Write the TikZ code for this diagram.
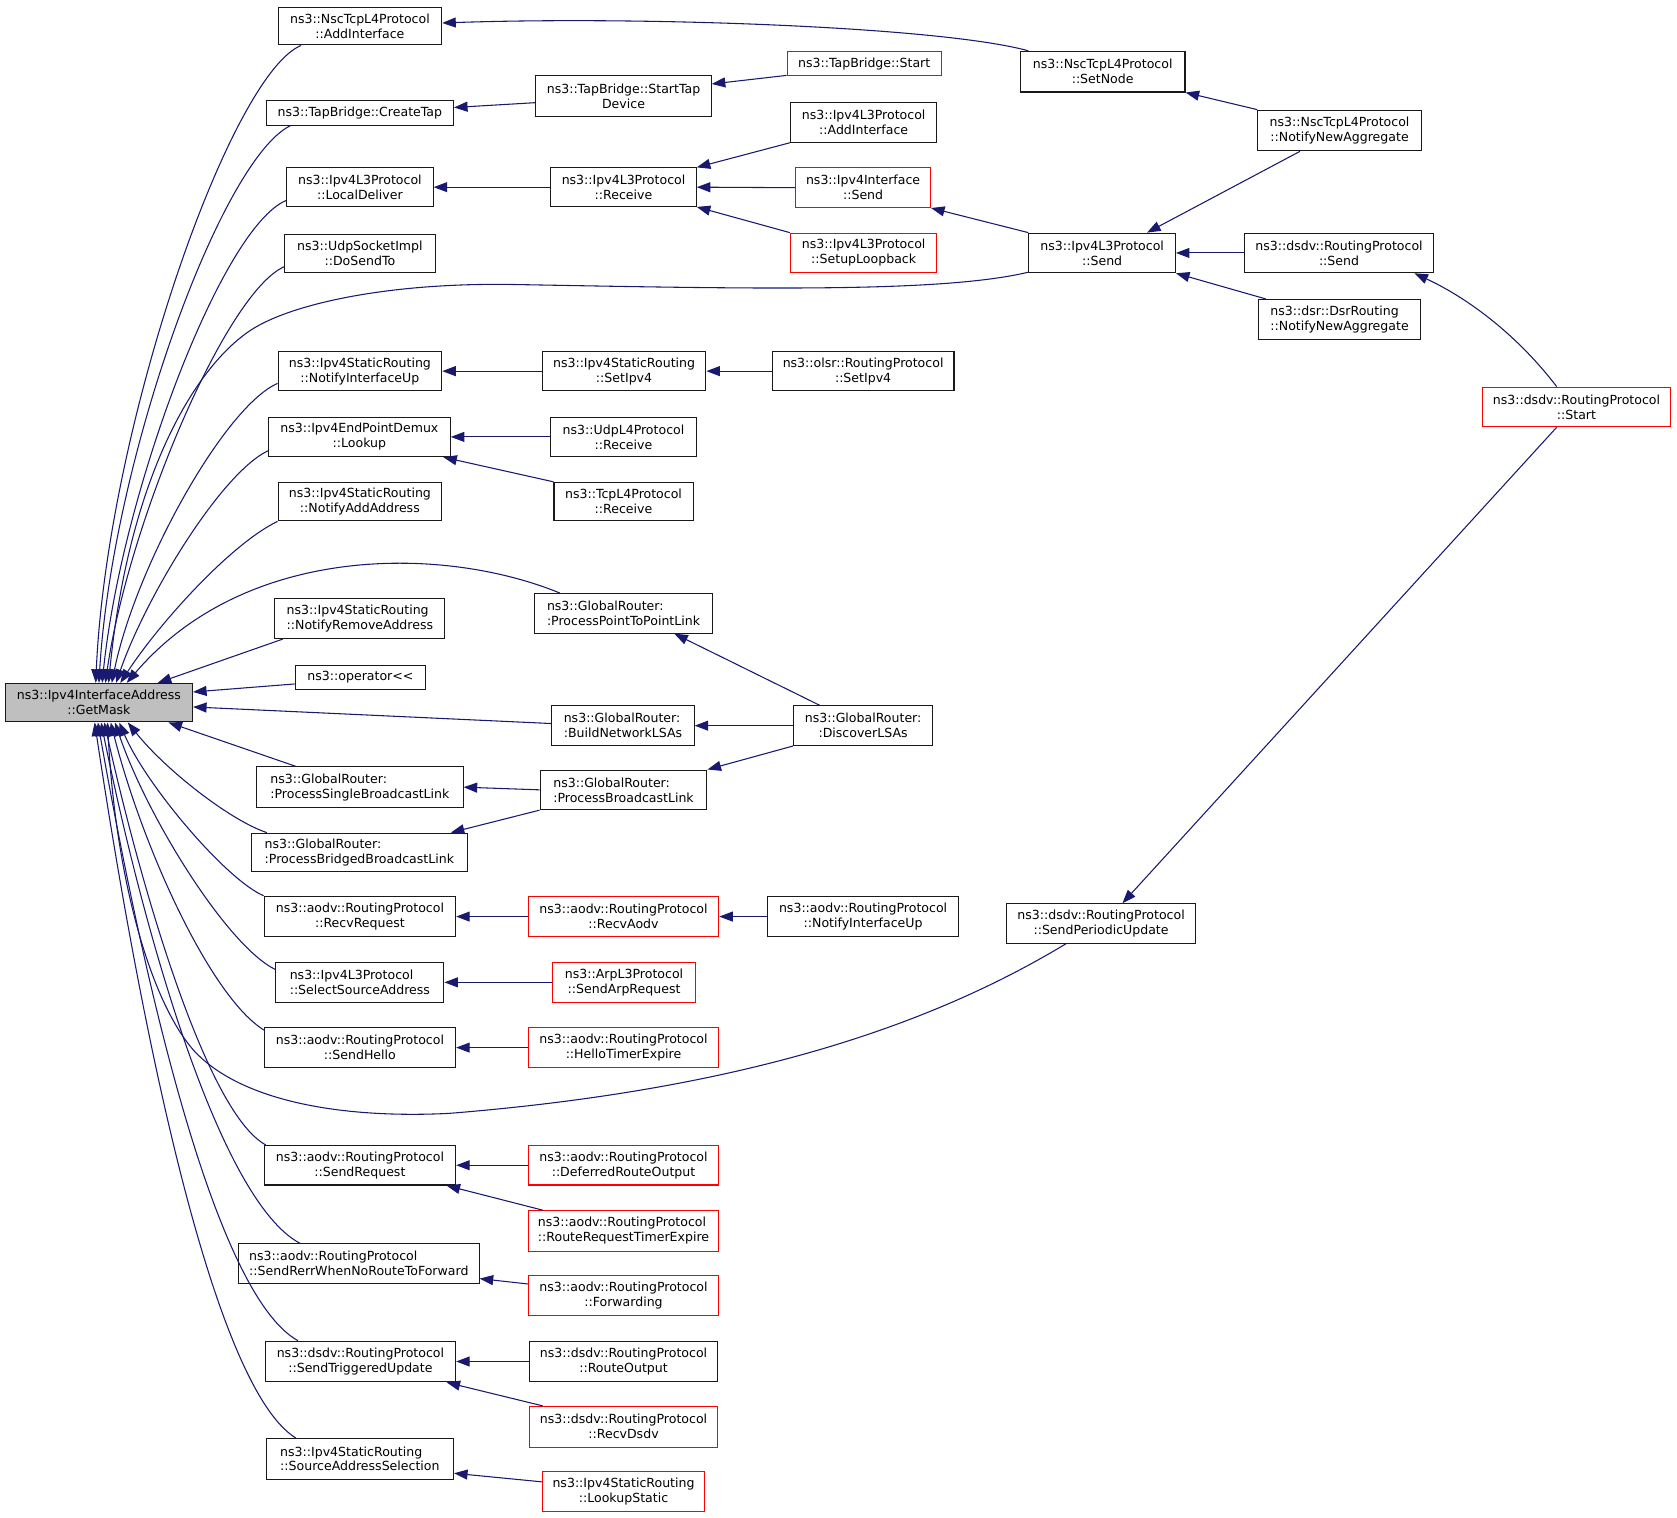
\documentclass[tikz,border=0pt]{standalone}
\usepackage{fontspec}
\setmainfont{DejaVu Sans}
\usetikzlibrary{arrows.meta,calc}
\definecolor{edgec}{HTML}{191970}
\definecolor{gmfill}{HTML}{BFBFBF}
\tikzset{
  fn/.style={draw=black!90, line width=0.75pt, inner sep=0pt, align=center, text=black,
    font=\fontsize{8.8pt}{10.5pt}\selectfont},
  fnl/.style={fn, align=left},
  redbox/.style={draw=red},
  cur/.style={fill=gmfill},
  edge/.style={draw=edgec, line width=0.75pt, -{Triangle[length=9.5pt,width=7pt]}, edgec},
}
\newcommand\fnbox[7]{\node[#6, minimum width={(#4-#2)*0.75pt}, minimum height={(#5-#3)*0.75pt}] (#1) at ({(#2+#4)/2},{(#3+#5)/2}) {#7};}
\begin{document}
\begin{tikzpicture}[x=0.75pt,y=-0.75pt]
\fill[white] (0,0) rectangle (1568,1418.5);
\useasboundingbox (0,0) rectangle (1568,1418.5);
% column 1
\fnbox{gm}{5}{639}{180}{675}{fn,cur}{ns3::Ipv4InterfaceAddress\\::GetMask}
% column 2
\fnbox{nscadd}{260}{7}{413}{42}{fn}{ns3::NscTcpL4Protocol\\::AddInterface}
\fnbox{ctap}{249}{94}{424}{117}{fn}{ns3::TapBridge::CreateTap}
\fnbox{ldel}{268}{157}{405}{193}{fn}{ns3::Ipv4L3Protocol\\::LocalDeliver}
\fnbox{dosend}{266}{219}{407}{255}{fn}{ns3::UdpSocketImpl\\::DoSendTo}
\fnbox{niu}{260}{329}{413}{365}{fn}{ns3::Ipv4StaticRouting\\::NotifyInterfaceUp}
\fnbox{lookup}{251}{390}{421}{427}{fn}{ns3::Ipv4EndPointDemux\\::Lookup}
\fnbox{naa}{260}{451}{413}{487}{fn}{ns3::Ipv4StaticRouting\\::NotifyAddAddress}
\fnbox{nra}{257}{560}{416}{597}{fnl}{ns3::Ipv4StaticRouting\\::NotifyRemoveAddress}
\fnbox{opl}{276}{622}{398}{645}{fn}{ns3::operator<\kern0pt<}
\fnbox{psbl}{240}{717}{433}{755}{fnl}{ns3::GlobalRouter:\\:ProcessSingleBroadcastLink}
\fnbox{pbbl}{235}{779}{437}{815}{fnl}{ns3::GlobalRouter:\\:ProcessBridgedBroadcastLink}
\fnbox{rreq}{247}{838}{426}{876}{fn}{ns3::aodv::RoutingProtocol\\::RecvRequest}
\fnbox{ssa}{258}{900}{415}{937}{fnl}{ns3::Ipv4L3Protocol\\::SelectSourceAddress}
\fnbox{shello}{247}{961}{426}{998}{fn}{ns3::aodv::RoutingProtocol\\::SendHello}
\fnbox{sreq}{247}{1071}{426}{1108}{fn}{ns3::aodv::RoutingProtocol\\::SendRequest}
\fnbox{srerr}{223}{1163}{448}{1200}{fnl}{ns3::aodv::RoutingProtocol\\::SendRerrWhenNoRouteToForward}
\fnbox{stu}{248}{1254}{426}{1292}{fn}{ns3::dsdv::RoutingProtocol\\::SendTriggeredUpdate}
\fnbox{sas}{249}{1345}{424}{1383}{fnl}{ns3::Ipv4StaticRouting\\::SourceAddressSelection}
% column 3
\fnbox{stap}{501}{71}{665}{109}{fn}{ns3::TapBridge::StartTap\\Device}
\fnbox{rcv}{515}{157}{651}{193}{fn}{ns3::Ipv4L3Protocol\\::Receive}
\fnbox{setipv}{507}{329}{660}{365}{fn}{ns3::Ipv4StaticRouting\\::SetIpv4}
\fnbox{udprcv}{515}{390}{651}{427}{fn}{ns3::UdpL4Protocol\\::Receive}
\fnbox{tcprcv}{518}{451}{648}{487}{fn}{ns3::TcpL4Protocol\\::Receive}
\fnbox{p2p}{500}{555}{666}{592}{fnl}{ns3::GlobalRouter:\\:ProcessPointToPointLink}
\fnbox{bnl}{516}{660}{649}{697}{fnl}{ns3::GlobalRouter:\\:BuildNetworkLSAs}
\fnbox{pbl}{505}{720}{661}{757}{fnl}{ns3::GlobalRouter:\\:ProcessBroadcastLink}
\fnbox{raodv}{494}{838}{672}{876}{fn,redbox}{ns3::aodv::RoutingProtocol\\::RecvAodv}
\fnbox{sarp}{517}{900}{650}{937}{fn,redbox}{ns3::ArpL3Protocol\\::SendArpRequest}
\fnbox{hte}{494}{961}{672}{998}{fn,redbox}{ns3::aodv::RoutingProtocol\\::HelloTimerExpire}
\fnbox{dro}{494}{1071}{672}{1108}{fn,redbox}{ns3::aodv::RoutingProtocol\\::DeferredRouteOutput}
\fnbox{rrte}{494}{1132}{672}{1170}{fnl,redbox}{ns3::aodv::RoutingProtocol\\::RouteRequestTimerExpire}
\fnbox{fwd}{494}{1193}{672}{1230}{fn,redbox}{ns3::aodv::RoutingProtocol\\::Forwarding}
\fnbox{rout}{495}{1254}{671}{1292}{fn}{ns3::dsdv::RoutingProtocol\\::RouteOutput}
\fnbox{rdsdv}{495}{1315}{671}{1353}{fn,redbox}{ns3::dsdv::RoutingProtocol\\::RecvDsdv}
\fnbox{lstat}{507}{1376}{659}{1413}{fn,redbox}{ns3::Ipv4StaticRouting\\::LookupStatic}
% column 4
\fnbox{tbstart}{736}{48}{880}{71}{fn,redbox}{ns3::TapBridge::Start}
\fnbox{l3add}{739}{96}{876}{133}{fn}{ns3::Ipv4L3Protocol\\::AddInterface}
\fnbox{ifsend}{744}{157}{870}{194}{fn,redbox}{ns3::Ipv4Interface\\::Send}
\fnbox{loop}{739}{218}{876}{255}{fn,redbox}{ns3::Ipv4L3Protocol\\::SetupLoopback}
\fnbox{olsr}{722}{329}{892}{365}{fn}{ns3::olsr::RoutingProtocol\\::SetIpv4}
\fnbox{disc}{742}{660}{872}{697}{fn}{ns3::GlobalRouter:\\:DiscoverLSAs}
\fnbox{aniu}{718}{838}{896}{876}{fn}{ns3::aodv::RoutingProtocol\\::NotifyInterfaceUp}
% column 5
\fnbox{setnode}{954}{48}{1108}{86}{fn}{ns3::NscTcpL4Protocol\\::SetNode}
\fnbox{l3send}{962}{218}{1099}{255}{fn}{ns3::Ipv4L3Protocol\\::Send}
\fnbox{spu}{941}{845}{1118}{882}{fn}{ns3::dsdv::RoutingProtocol\\::SendPeriodicUpdate}
% column 6
\fnbox{nna}{1176}{103}{1329}{141}{fn}{ns3::NscTcpL4Protocol\\::NotifyNewAggregate}
\fnbox{dsend}{1164}{218}{1340}{255}{fn}{ns3::dsdv::RoutingProtocol\\::Send}
\fnbox{dsr}{1177}{280}{1328}{317}{fnl}{ns3::dsr::DsrRouting\\::NotifyNewAggregate}
\fnbox{dstart}{1386}{362}{1562}{399}{fn,redbox}{ns3::dsdv::RoutingProtocol\\::Start}

% edges into GetMask (top)
\draw[edge] ($(nscadd.south west)+(22,0)$) .. controls (215,70) and (100,400) .. ($(gm.north west)+(85,0)$);
\draw[edge] ($(ctap.south west)+(23,0)$) .. controls (207,149) and (105,429) .. ($(gm.north west)+(88,0)$);
\draw[edge] ($(ldel.south west)+(0,-6)$) .. controls (208,212) and (114,459) .. ($(gm.north west)+(91,0)$);
\draw[edge] ($(dosend.south west)+(0,-6)$) .. controls (211,274) and (120,489) .. ($(gm.north west)+(94,0)$);
\draw[edge] ($(l3send.south west)+(0,-1)$) .. controls (880,274) and (700,270) .. (480,266)
   .. controls (360,264) and (270,285) .. (234,309)
   .. controls (180,345) and (120,450) .. ($(gm.north west)+(97,0)$);
\draw[edge] ($(niu.south west)+(0,-7)$) .. controls (210,380) and (127,529) .. ($(gm.north west)+(100,0)$);
\draw[edge] ($(lookup.south west)+(0,-6)$) .. controls (206,443) and (136,559) .. ($(gm.north west)+(104,0)$);
\draw[edge] (naa.south west) .. controls (215,509) and (148,584) .. ($(gm.north west)+(108,0)$);
\draw[edge] ($(p2p.north west)+(24,0)$) .. controls (415,510) and (230,508) .. ($(gm.north west)+(114,0)$);
\draw[edge] ($(nra.south west)+(8,0)$) -- ($(gm.north west)+(143,0)$);
% edges into GetMask (right)
\draw[edge] ($(opl.south west)+(0,-6)$) -- ($(gm.east)+(0,-10)$);
\draw[edge] ($(bnl.west)+(0,-2)$) -- ($(gm.east)+(0,4)$);
% edges into GetMask (bottom)
\draw[edge] ($(psbl.north west)+(37,0)$) -- ($(gm.south west)+(153,0)$);
\draw[edge] ($(pbbl.north west)+(15,0)$) .. controls (215,767) and (155,720) .. ($(gm.south west)+(115,0)$);
\draw[edge] (rreq.north west) .. controls (212,823) and (137,735) .. ($(gm.south west)+(107,0)$);
\draw[edge] ($(ssa.north west)+(0,7)$) .. controls (213,885) and (138,765) .. ($(gm.south west)+(103,0)$);
\draw[edge] ($(shello.north west)+(1,3)$) .. controls (198,934) and (134,795) .. ($(gm.south west)+(99,0)$);
\draw[edge] ($(spu.south west)+(56,0)$) .. controls (860,965) and (680,1020) .. (420,1041)
   .. controls (320,1046) and (225,1030) .. (181,982)
   .. controls (140,935) and (108,820) .. ($(gm.south west)+(96,0)$);
\draw[edge] ($(sreq.north west)+(2,0)$) .. controls (194,1041) and (133,835) .. ($(gm.south west)+(93,0)$);
\draw[edge] ($(srerr.north west)+(58,0)$) .. controls (206,1123) and (135,875) .. ($(gm.south west)+(90,0)$);
\draw[edge] ($(stu.north west)+(31,0)$) .. controls (199,1209) and (132,905) .. ($(gm.south west)+(87,0)$);
\draw[edge] ($(sas.north west)+(28,0)$) .. controls (197,1295) and (129,945) .. ($(gm.south west)+(84,0)$);

% other edges
\draw[edge] ($(setnode.north west)+(8,0)$) .. controls (880,25) and (600,15) .. ($(nscadd.east)+(0,-3)$);
\draw[edge] (nna.north west) -- (setnode.south east);
\draw[edge] ($(nna.south west)+(40,0)$) -- ($(l3send.north east)+(-27,0)$);
\draw[edge] (dsend.west) -- (l3send.east);
\draw[edge] ($(dsr.north west)+(7,0)$) -- (l3send.south east);
\draw[edge] ($(dstart.north west)+(70,0)$) .. controls (1420,315) and (1375,280) .. ($(dsend.south east)+(-18,0)$);
\draw[edge] ($(dstart.south west)+(70,0)$) -- ($(spu.north west)+(109,0)$);
\draw[edge] (l3send.north west) -- (ifsend.south east);
\draw[edge] (l3add.south west) -- (rcv.north east);
\draw[edge] (ifsend.west) -- (rcv.east);
\draw[edge] (loop.north west) -- (rcv.south east);
\draw[edge] (rcv.west) -- (ldel.east);
\draw[edge] ($(tbstart.south west)+(0,-1)$) -- ($(stap.north east)+(0,8)$);
\draw[edge] ($(stap.west)+(0,6)$) -- ($(ctap.east)+(0,-5)$);
\draw[edge] (setipv.west) -- (niu.east);
\draw[edge] (olsr.west) -- (setipv.east);
\draw[edge] (udprcv.west) -- (lookup.east);
\draw[edge] (tcprcv.north west) -- ($(lookup.south east)+(-7,0)$);
\draw[edge] ($(disc.north west)+(25,0)$) -- ($(p2p.south west)+(131,0)$);
\draw[edge] (disc.west) -- (bnl.east);
\draw[edge] (disc.south west) -- (pbl.north east);
\draw[edge] (pbl.west) -- (psbl.east);
\draw[edge] (pbl.south west) -- ($(pbbl.north east)+(-16,0)$);
\draw[edge] (raodv.west) -- (rreq.east);
\draw[edge] (aniu.west) -- (raodv.east);
\draw[edge] (sarp.west) -- (ssa.east);
\draw[edge] (hte.west) -- (shello.east);
\draw[edge] (dro.west) -- (sreq.east);
\draw[edge] ($(rrte.north west)+(14,0)$) -- ($(sreq.south east)+(-9,0)$);
\draw[edge] ($(fwd.north west)+(0,8)$) -- ($(srerr.south east)+(0,-5)$);
\draw[edge] (rout.west) -- (stu.east);
\draw[edge] ($(rdsdv.north west)+(13,0)$) -- ($(stu.south east)+(-9,0)$);
\draw[edge] ($(lstat.north west)+(0,10)$) -- ($(sas.south east)+(0,-6)$);
\end{tikzpicture}
\end{document}
